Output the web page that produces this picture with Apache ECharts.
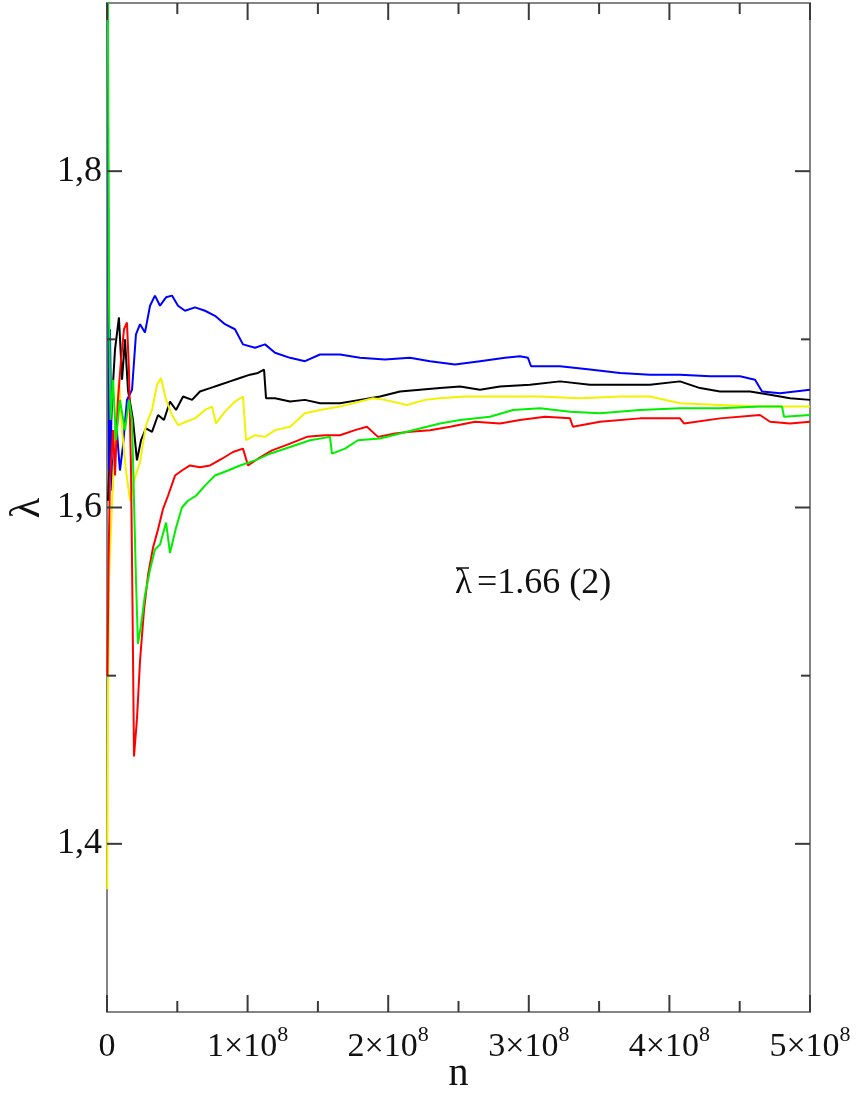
<!DOCTYPE html>
<html>
<head>
<meta charset="utf-8">
<script src="https://cdn.jsdelivr.net/npm/echarts@6/dist/echarts.min.js"></script>
<style>html,body{margin:0;padding:0;background:#fff}#c{width:858px;height:1095px}</style>
</head>
<body>
<div id="c"></div>
<script>
// n in units of 10^8, lambda values
const xTicks = [0, 1, 2, 3, 4, 5];
const xMinorTicks = [0.5, 1.5, 2.5, 3.5, 4.5];
const yTickLabels = [1.4, 1.6, 1.8];
const yMinorTicks = [1.5, 1.7];
const X_MIN = 0, X_MAX = 5, Y_MIN = 1.3, Y_MAX = 1.9;

const blue = [[0.003,1.96],[0.014,1.622],[0.021,1.706],[0.036,1.610],[0.064,1.652],[0.092,1.622],[0.114,1.637],[0.142,1.664],[0.178,1.670],[0.206,1.703],[0.235,1.709],[0.270,1.704],[0.306,1.720],[0.341,1.726],[0.377,1.720],[0.420,1.725],[0.462,1.726],[0.505,1.720],[0.555,1.717],[0.626,1.719],[0.697,1.717],[0.768,1.714],[0.839,1.709],[0.910,1.706],[0.967,1.697],[1.053,1.695],[1.124,1.697],[1.195,1.692],[1.302,1.689],[1.408,1.687],[1.515,1.691],[1.657,1.691],[1.799,1.689],[1.977,1.688],[2.155,1.689],[2.297,1.687],[2.475,1.685],[2.653,1.687],[2.831,1.689],[2.937,1.690],[2.994,1.689],[3.016,1.684],[3.222,1.684],[3.435,1.682],[3.649,1.680],[3.862,1.679],[4.075,1.679],[4.289,1.678],[4.502,1.678],[4.609,1.676],[4.659,1.669],[4.787,1.668],[4.893,1.669],[5.0,1.670]];

const black = [[0.007,1.604],[0.036,1.664],[0.057,1.694],[0.085,1.713],[0.107,1.676],[0.128,1.700],[0.149,1.670],[0.185,1.652],[0.213,1.628],[0.242,1.640],[0.277,1.647],[0.320,1.645],[0.363,1.655],[0.405,1.652],[0.448,1.663],[0.491,1.658],[0.541,1.666],[0.605,1.664],[0.661,1.669],[0.733,1.671],[0.804,1.673],[0.875,1.675],[0.946,1.677],[1.017,1.679],[1.074,1.680],[1.117,1.682],[1.131,1.665],[1.195,1.665],[1.302,1.663],[1.408,1.664],[1.515,1.662],[1.657,1.662],[1.799,1.664],[1.942,1.666],[2.084,1.669],[2.226,1.670],[2.368,1.671],[2.511,1.672],[2.653,1.670],[2.795,1.672],[3.009,1.673],[3.222,1.675],[3.435,1.673],[3.649,1.673],[3.862,1.673],[4.075,1.675],[4.218,1.671],[4.360,1.669],[4.573,1.669],[4.716,1.667],[4.858,1.665],[5.0,1.664]];

const yellow = [[0.002,1.373],[0.007,1.486],[0.014,1.557],[0.028,1.587],[0.043,1.616],[0.064,1.652],[0.085,1.676],[0.107,1.646],[0.135,1.622],[0.164,1.604],[0.192,1.616],[0.235,1.627],[0.277,1.649],[0.320,1.658],[0.356,1.673],[0.384,1.677],[0.420,1.664],[0.462,1.655],[0.505,1.649],[0.562,1.651],[0.626,1.653],[0.697,1.658],[0.747,1.660],[0.775,1.650],[0.839,1.657],[0.910,1.663],[0.967,1.666],[0.989,1.640],[1.053,1.643],[1.124,1.642],[1.195,1.646],[1.302,1.648],[1.408,1.656],[1.515,1.658],[1.657,1.660],[1.799,1.663],[1.892,1.665],[1.977,1.664],[2.134,1.661],[2.262,1.664],[2.368,1.665],[2.546,1.666],[2.795,1.666],[3.080,1.666],[3.364,1.665],[3.649,1.666],[3.862,1.666],[4.075,1.662],[4.360,1.661],[4.644,1.660],[4.858,1.660],[5.0,1.660]];

const red = [[0.003,1.500],[0.011,1.569],[0.021,1.616],[0.043,1.646],[0.057,1.619],[0.078,1.664],[0.100,1.688],[0.121,1.706],[0.142,1.710],[0.156,1.682],[0.171,1.622],[0.181,1.545],[0.192,1.452],[0.213,1.474],[0.235,1.509],[0.263,1.539],[0.292,1.560],[0.327,1.576],[0.363,1.587],[0.398,1.599],[0.434,1.607],[0.484,1.619],[0.533,1.622],[0.590,1.625],[0.661,1.624],[0.733,1.625],[0.818,1.629],[0.896,1.633],[0.967,1.635],[1.003,1.625],[1.074,1.629],[1.174,1.634],[1.302,1.638],[1.422,1.642],[1.550,1.643],[1.657,1.643],[1.764,1.646],[1.849,1.648],[1.927,1.642],[2.048,1.644],[2.155,1.645],[2.297,1.646],[2.440,1.648],[2.617,1.651],[2.795,1.650],[2.937,1.652],[3.115,1.654],[3.293,1.653],[3.314,1.648],[3.506,1.651],[3.791,1.653],[4.075,1.653],[4.104,1.650],[4.360,1.653],[4.644,1.655],[4.716,1.651],[4.858,1.650],[5.0,1.651]];

const green = [[0.004,1.95],[0.014,1.723],[0.025,1.652],[0.043,1.676],[0.064,1.640],[0.092,1.664],[0.128,1.646],[0.156,1.664],[0.178,1.652],[0.192,1.604],[0.206,1.557],[0.220,1.519],[0.242,1.530],[0.270,1.548],[0.306,1.563],[0.341,1.575],[0.377,1.578],[0.420,1.591],[0.448,1.573],[0.491,1.588],[0.533,1.600],[0.576,1.604],[0.633,1.607],[0.697,1.613],[0.768,1.619],[0.861,1.622],[0.946,1.625],[1.053,1.628],[1.159,1.632],[1.302,1.636],[1.444,1.640],[1.586,1.642],[1.600,1.632],[1.693,1.635],[1.785,1.640],[1.942,1.641],[2.084,1.644],[2.226,1.647],[2.368,1.650],[2.511,1.652],[2.724,1.654],[2.888,1.658],[3.080,1.659],[3.293,1.657],[3.506,1.656],[3.791,1.658],[4.075,1.659],[4.360,1.659],[4.644,1.660],[4.801,1.660],[4.815,1.654],[5.0,1.655]];

const SERIF = '"Liberation Serif", "DejaVu Serif", serif';
const frameColor = '#858585';
const tickColor = '#3a3a3a';

const chart = echarts.init(document.getElementById('c'), null, {renderer: 'canvas'});

function yAxisBase(pos, withLabels) {
  return {
    type: 'value', min: Y_MIN, max: Y_MAX, interval: 0.1, position: pos,
    axisLine: {show: true, onZero: false, lineStyle: {color: frameColor, width: 2}},
    axisTick: {show: false},
    axisLabel: withLabels ? {
      show: true, customValues: yTickLabels, margin: 5,
      formatter: v => v.toFixed(1).replace('.', ','),
      fontFamily: SERIF, fontSize: 36, color: '#111'
    } : {show: false},
    splitLine: {show: false}
  };
}

function xAxisBase(pos, withLabels) {
  const ax = {
    type: 'value', min: X_MIN, max: X_MAX, interval: 0.5, position: pos,
    axisLine: {show: true, onZero: false, lineStyle: {color: frameColor, width: 2}},
    axisTick: {show: false},
    splitLine: {show: false},
    axisLabel: {show: false}
  };
  if (withLabels) {
    ax.axisLabel = {
      show: true, customValues: xTicks, margin: 12,
      formatter: v => (v === 0 ? '{a|0}' : '{a|' + v + '×10}{s|8}'),
      rich: {
        a: {fontFamily: SERIF, fontSize: 34, lineHeight: 46, color: '#111'},
        s: {fontFamily: SERIF, fontSize: 22, lineHeight: 22, padding: [0, 0, 24, 0], color: '#111'}
      }
    };
    ax.name = 'n';
    ax.nameLocation = 'middle';
    ax.nameGap = 42;
    ax.nameMoveOverlap = false;
    ax.nameTextStyle = {fontFamily: SERIF, fontSize: 40, color: '#111'};
  }
  return ax;
}

// inward tick marks drawn as small rect symbols at the tick values on the frame
function tickSeries(points, size, offset) {
  return {
    type: 'scatter', data: points, xAxisIndex: 0, yAxisIndex: 0,
    symbol: 'rect', symbolSize: size, symbolOffset: offset,
    itemStyle: {color: tickColor, opacity: 1}, silent: true, clip: false, z: 10,
    emphasis: {disabled: true}
  };
}

const lineSeries = [
  {name: 'black', data: black, color: '#000000'},
  {name: 'blue', data: blue, color: '#0000ff'},
  {name: 'yellow', data: yellow, color: '#f2f200'},
  {name: 'red', data: red, color: '#ff0000'},
  {name: 'green', data: green, color: '#00ee00'}
].map(s => ({
  type: 'line', name: s.name, data: s.data, xAxisIndex: 0, yAxisIndex: 0,
  showSymbol: false, symbol: 'none', smooth: false, clip: true,
  lineStyle: {color: s.color, width: 2}, itemStyle: {color: s.color}
}));

const tickMarks = [
  tickSeries(xTicks.map(v => [v, Y_MIN]), [2, 17], [0, -8.5]),
  tickSeries(xTicks.map(v => [v, Y_MAX]), [2, 17], [0, 8.5]),
  tickSeries(xMinorTicks.map(v => [v, Y_MIN]), [2, 11], [0, -5.5]),
  tickSeries(xMinorTicks.map(v => [v, Y_MAX]), [2, 11], [0, 5.5]),
  tickSeries(yTickLabels.map(v => [X_MIN, v]), [15, 2], [7.5, 0]),
  tickSeries(yTickLabels.map(v => [X_MAX, v]), [15, 2], [-7.5, 0]),
  tickSeries(yMinorTicks.map(v => [X_MIN, v]), [9, 2], [4.5, 0]),
  tickSeries(yMinorTicks.map(v => [X_MAX, v]), [9, 2], [-4.5, 0])
];

const option = {
  animation: false,
  backgroundColor: '#fff',
  grid: {left: 107, right: 48, top: 3, bottom: 83, containLabel: false, outerBoundsMode: 'none'},
  xAxis: [xAxisBase('bottom', true), xAxisBase('top', false)],
  yAxis: [yAxisBase('left', true), yAxisBase('right', false)],
  graphic: [
    {
      type: 'text', x: 28, y: 508, rotation: Math.PI / 2,
      style: {text: 'λ', font: '42px ' + SERIF, fill: '#111', align: 'center', verticalAlign: 'middle'}
    },
    {
      type: 'text', left: 455, top: 566,
      style: {text: 'λ', font: '35px ' + SERIF, fill: '#111'}
    },
    {
      type: 'text', left: 477, top: 566,
      style: {text: '=1.66 (2)', font: '36px ' + SERIF, fill: '#111'}
    },
    {
      type: 'line', shape: {x1: 456, y1: 568, x2: 469, y2: 568},
      style: {stroke: '#111', lineWidth: 1.5}
    }
  ],
  series: lineSeries.concat(tickMarks)
};
chart.setOption(option);
</script>
</body>
</html>
